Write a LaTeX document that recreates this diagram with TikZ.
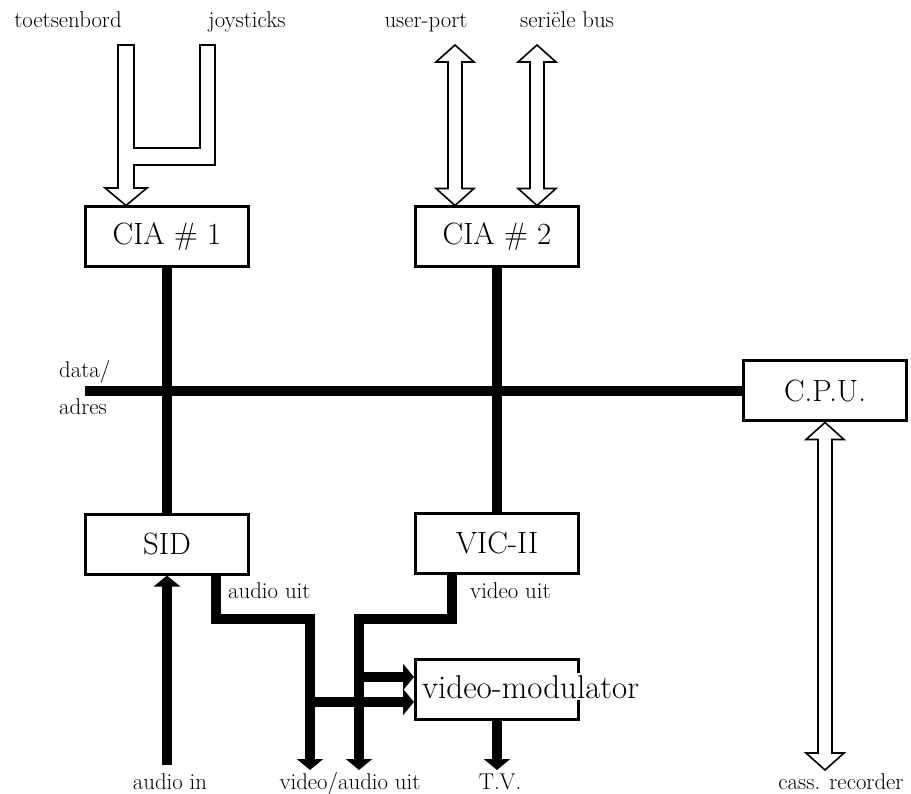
\documentclass[tikz,border=0pt]{standalone}
\usepackage{tikz}
\usetikzlibrary{arrows.meta,positioning,calc}

% hollow double arrow, top tip #1, bottom tip #2
\newcommand\hollowbus[2]{%
  \draw[hollow] (#1) -- ($(#1)+(19,17)$) -- ($(#1)+(7,17)$) -- ($(#2)+(7,-17)$)
    -- ($(#2)+(19,-17)$) -- (#2) -- ($(#2)+(-19,-17)$) -- ($(#2)+(-7,-17)$)
    -- ($(#1)+(-7,17)$) -- ($(#1)+(-19,17)$) -- cycle;}

\begin{document}
\begin{tikzpicture}[x=1pt,y=-1pt,
  chip/.style={draw, line width=3pt, fill=white, minimum width=163pt,
               minimum height=60pt, inner sep=0pt,
               font=\fontsize{30.8}{36}\selectfont},
  lbl/.style={inner sep=0pt, font=\fontsize{22.8}{26}\selectfont},
  bus/.style={line width=10.5pt},
  wire/.style={line width=10pt, line join=miter},
  tip/.style={-{Triangle[width=26pt,length=11pt]}},
  hollow/.style={draw, line width=1.6pt, fill=white, line join=miter}
]
  \useasboundingbox (0,0) rectangle (911,794);

  % chips
  \node[chip] (cia1) at (167,237) {CIA \# 1};
  \node[chip] (cia2) at (497,237) {CIA \# 2};
  \node[chip] (cpu)  at (825,391) {C.P.U.};
  \node[chip] (sid)  at (167,544) {SID};
  \node[chip] (vic)  at (497,543) {VIC-II};
  \node[chip] (mod)  at (497,689) {};
  \node[anchor=base west, fill=white, inner xsep=0pt, inner ysep=2pt,
        font=\fontsize{33}{38}\selectfont] (modlbl) at (422,698) {video-modulator};

  % outside labels
  \node[lbl, anchor=base] (keyb)   at (68,28)  {toetsenbord};
  \node[lbl, anchor=base] (joy)    at (247,28) {joysticks};
  \node[lbl, anchor=base] (uport)  at (426,28) {user-port};
  \node[lbl, anchor=base] (serbus) at (567,28) {seriële bus};
  \node[lbl, anchor=base west] (data)  at (59,378) {data/};
  \node[lbl, anchor=base west] (adres) at (59,415) {adres};
  \node[lbl, anchor=base west] (aout)  at (228,598) {audio uit};
  \node[lbl, anchor=base west] (vout)  at (470,598) {video uit};
  \node[lbl, anchor=base] (ain)   at (170,789) {audio in};
  \node[lbl, anchor=base] (avout) at (350,789) {video/audio uit};
  \node[lbl, anchor=base] (tv)    at (500,789) {T.V.};
  \node[lbl, anchor=base] (cass)  at (841,789) {cass. recorder};

  % data/adres bus
  \coordinate (busL) at (85,0 |- cpu.west);
  \draw[bus] (busL) -- (cpu.west);
  \draw[bus] (cia1.south) -- (sid.north);
  \draw[bus] (cia2.south) -- (vic.north);

  % audio and video
  \coordinate (ainB) at (sid.south |- 0,765);
  \coordinate (avA)  at (310,770);
  \coordinate (avV)  at (359,770);
  \coordinate (tvB)  at (mod.south |- 0,770);
  \draw[wire, tip] (ainB) -- (sid.south);
  \draw[wire, tip] (sid.south -| 216,0) |- (310,619) -- (avA);
  \draw[wire, tip] (vic.south -| 452,0) |- (359,619) -- (avV);
  \draw[wire, tip] (359,677) -- (mod.west |- 0,677);
  \draw[wire, tip] (310,702) -- (mod.west |- 0,702);
  \draw[wire, tip] (mod.south) -- (tvB);

  % keyboard and joysticks into CIA #1
  \coordinate (kbT) at (126,0 |- cia1.north);
  \draw[hollow] (118,45) -- (134,45) -- (134,148) -- (200,148) -- (200,45)
    -- (215,45) -- (215,165) -- (134,165) -- (134,188) -- (147,188)
    -- (kbT) -- (105,188) -- (118,188) -- cycle;

  % user-port, serial bus, cassette
  \coordinate (upT) at (455,45);
  \coordinate (upB) at (upT |- cia2.north);
  \coordinate (sbT) at (537,45);
  \coordinate (sbB) at (sbT |- cia2.north);
  \coordinate (csT) at (cpu.south);
  \coordinate (csB) at (cpu.south |- 0,770);
  \hollowbus{upT}{upB}
  \hollowbus{sbT}{sbB}
  \hollowbus{csT}{csB}
\end{tikzpicture}
\end{document}
